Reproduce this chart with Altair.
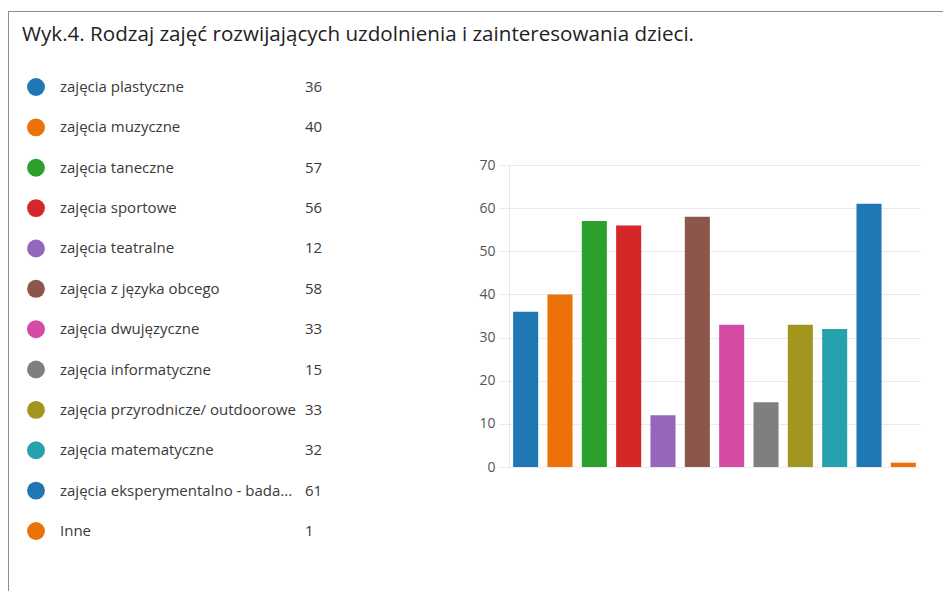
import altair as alt
import pandas as pd

categories = [
    "zajęcia plastyczne",
    "zajęcia muzyczne",
    "zajęcia taneczne",
    "zajęcia sportowe",
    "zajęcia teatralne",
    "zajęcia z języka obcego",
    "zajęcia dwujęzyczne",
    "zajęcia informatyczne",
    "zajęcia przyrodnicze/ outdoorowe",
    "zajęcia matematyczne",
    "zajęcia eksperymentalno - bada...",
    "Inne",
]
values = [36, 40, 57, 56, 12, 58, 33, 15, 33, 32, 61, 1]
colors = ["#1f77b4", "#ed7109", "#2ca02c", "#d62728", "#9467bd", "#8c564b",
          "#d44ba6", "#7f7f7f", "#a3961e", "#26a2ad", "#1f77b4", "#ed7109"]
y_ticks = [0, 10, 20, 30, 40, 50, 60, 70]
title_text = "Wyk.4. Rodzaj zajęć rozwijających uzdolnienia i zainteresowania dzieci."

df = pd.DataFrame({"cat": categories, "val": values})

FONT = "Open Sans"
color_scale = alt.Scale(domain=categories, range=colors)

bars = alt.Chart(df).mark_bar().encode(
    x=alt.X("cat:N", sort=categories, axis=None,
            scale=alt.Scale(paddingInner=0.27, paddingOuter=0.12)),
    y=alt.Y("val:Q", scale=alt.Scale(domain=[0, 70]), title=None,
            axis=alt.Axis(values=y_ticks, grid=True, gridColor="#ebebeb",
                          domainColor="#e6e6e6", tickColor="#ebebeb", tickSize=11,
                          labelColor="#555555", labelFont=FONT, labelFontSize=14,
                          labelPadding=3)),
    color=alt.Color("cat:N", scale=color_scale, legend=None),
)

leg_y = alt.Y("cat:N", sort=categories, axis=None,
              scale=alt.Scale(type="point", range=[-78, 366], padding=0))

dots = alt.Chart(df).mark_circle(size=320, opacity=1).encode(
    x=alt.value(-473), y=leg_y,
    color=alt.Color("cat:N", scale=color_scale, legend=None),
)
labels = alt.Chart(df).mark_text(align="left", baseline="middle", font=FONT,
                                 fontSize=15, color="#3a3a3a").encode(
    x=alt.value(-449), y=leg_y, text="cat:N")
nums = alt.Chart(df).mark_text(align="left", baseline="middle", font=FONT,
                               fontSize=15, color="#3a3a3a").encode(
    x=alt.value(-204), y=leg_y, text="val:Q")

one = pd.DataFrame({"a": [0]})
border_left = alt.Chart(one).mark_rule(color="#8c8c8c", strokeWidth=1).encode(
    x=alt.value(-500.5), y=alt.value(-154), y2=alt.value(430))
border_top = alt.Chart(one).mark_rule(color="#8c8c8c", strokeWidth=1).encode(
    x=alt.value(-500.5), x2=alt.value(440), y=alt.value(-153.5))

title_df = pd.DataFrame({"t": [title_text]})
title = alt.Chart(title_df).mark_text(align="left", baseline="alphabetic", font=FONT,
                                      fontSize=20.6, color="#222222").encode(
    x=alt.value(-487), y=alt.value(-124), text="t:N")

chart = alt.layer(border_left, border_top, title, bars, dots, labels, nums).resolve_scale(
    y="independent", x="independent"
).properties(
    width=411, height=302,
    autosize=alt.AutoSizeParams(type="none"),
    padding={"left": 501, "top": 157, "right": 23, "bottom": 124},
).configure_view(stroke=None)

chart.save("out.html", embed_options={"renderer": "svg", "actions": False})
